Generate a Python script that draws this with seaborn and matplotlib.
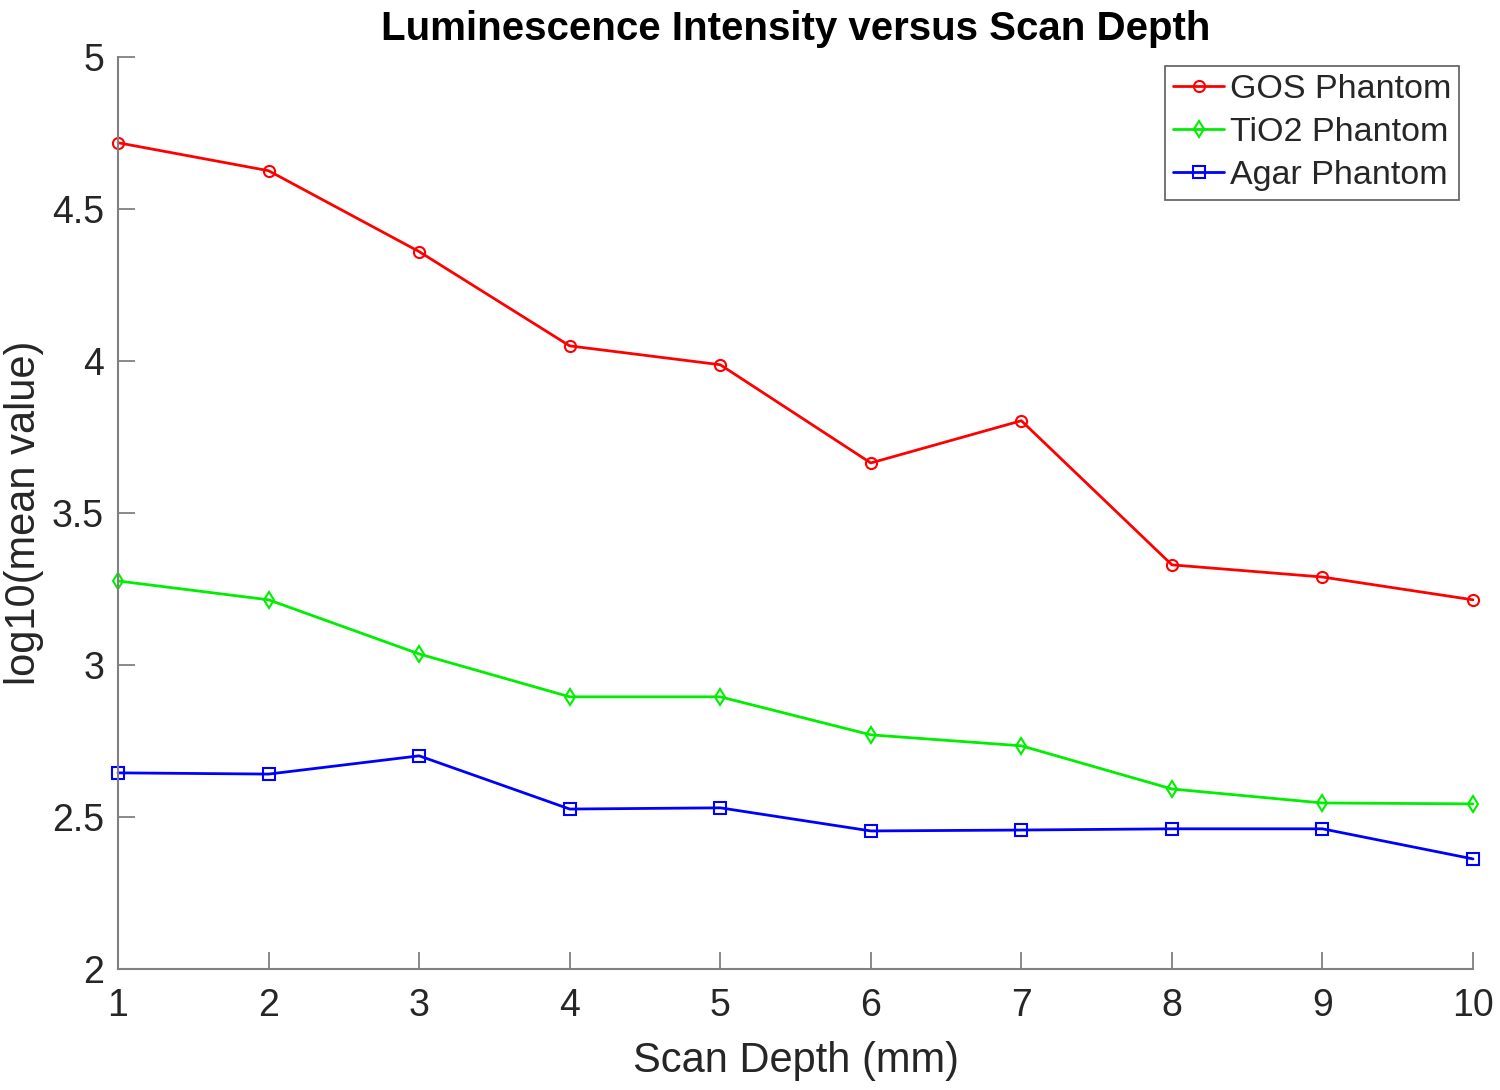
import matplotlib
matplotlib.use("Agg")
import matplotlib.pyplot as plt
import seaborn as sns
import pandas as pd

depth = [1, 2, 3, 4, 5, 6, 7, 8, 9, 10]
gos = [4.717, 4.625, 4.359, 4.049, 3.987, 3.664, 3.803, 3.329, 3.289, 3.214]
tio2 = [3.276, 3.214, 3.036, 2.895, 2.895, 2.770, 2.734, 2.592, 2.546, 2.543]
agar = [2.645, 2.641, 2.701, 2.526, 2.530, 2.454, 2.457, 2.461, 2.461, 2.362]
series = ["GOS Phantom", "TiO2 Phantom", "Agar Phantom"]

df = pd.DataFrame({
    "depth": depth * 3,
    "value": gos + tio2 + agar,
    "phantom": [series[0]] * 10 + [series[1]] * 10 + [series[2]] * 10,
})

sns.set_style("white", {"xtick.bottom": True, "ytick.left": True})
plt.rcParams['font.family'] = ['Arial', 'Liberation Sans', 'DejaVu Sans']

fig = plt.figure(figsize=(15, 10.9), dpi=100)
ax = fig.add_axes([0.0787, 0.111, 0.9033, 0.837])

palette = {series[0]: "#ff0000", series[1]: "#00ee00", series[2]: "#0000ff"}
markers = {series[0]: "o", series[1]: "d", series[2]: "s"}
sns.lineplot(data=df, x="depth", y="value", hue="phantom", style="phantom",
             palette=palette, markers=markers, dashes=False, ax=ax,
             linewidth=2, markersize=8, markeredgewidth=1.5)
for line in ax.lines:
    line.set_markerfacecolor("none")
    line.set_markeredgecolor(line.get_color())
    line.set_clip_on(False)

ax.set_xlim(1, 10)
ax.set_ylim(2, 5)
ax.set_xticks(depth)
ax.set_yticks([2, 2.5, 3, 3.5, 4, 4.5, 5])
ax.set_yticklabels(["2", "2.5", "3", "3.5", "4", "4.5", "5"])
ax.tick_params(direction="in", length=12, width=1.3, labelsize=27,
               colors="#808080", labelcolor="#262626")
ax.tick_params(axis="x", pad=14)
ax.tick_params(axis="y", pad=10)
for s in ["top", "right"]:
    ax.spines[s].set_visible(False)
for s in ["left", "bottom"]:
    ax.spines[s].set_color("#808080")
    ax.spines[s].set_linewidth(1.5)

ax.set_xlabel("Scan Depth (mm)", fontsize=30, color="#262626", labelpad=12)
ax.set_ylabel("log10(mean value)", fontsize=30, color="#262626", labelpad=6)
ax.set_title("Luminescence Intensity versus Scan Depth", fontsize=29,
             fontweight="bold", color="black", pad=12)

leg = ax.legend(title=None, loc="upper right", fontsize=24.5, frameon=True,
                fancybox=False, edgecolor="#333333", borderpad=0.25,
                handlelength=1.5, handletextpad=0.15, labelspacing=0.35,
                borderaxespad=0.0, bbox_to_anchor=(0.99, 0.99))
leg.get_frame().set_linewidth(1.2)

fig.savefig("out.png", dpi=100)
